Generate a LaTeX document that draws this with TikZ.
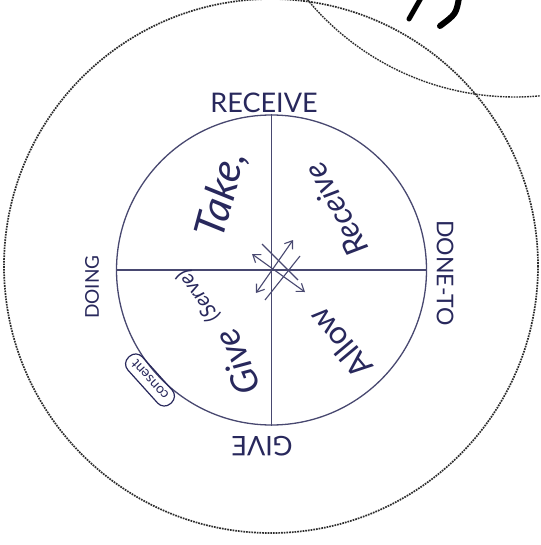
\documentclass[tikz,border=0pt]{standalone}
\usepackage{fontspec}
\setmainfont{Lato}
\usetikzlibrary{arrows.meta}
\definecolor{ink}{RGB}{40,40,92}
\definecolor{rulec}{RGB}{72,72,112}
\definecolor{dotc}{RGB}{45,45,45}
\begin{document}
\begin{tikzpicture}[x=1pt,y=-1pt,
  axislab/.style={text=ink, inner sep=0pt},
  quadlab/.style={text=ink, inner sep=0pt},
  dotcircle/.style={draw=dotc, line width=1.7pt, densely dotted},
  rulel/.style={draw=rulec, line width=1.3pt},
  arr/.style={draw=rulec, line width=1.1pt, {Straight Barb[length=7pt,width=10pt]}-{Straight Barb[length=7pt,width=10pt]}},
  plainl/.style={draw=rulec, line width=1.1pt},
  fs/.style={font=\fontsize{#1}{#1}\selectfont},
  fsi/.style={font=\fontsize{#1}{#1}\selectfont\itshape}]
\useasboundingbox (0,0) rectangle (540,545);
\fill[white] (0,0) rectangle (540,545);
\clip (0,0) rectangle (540,545);
% outer dotted circles
\draw[dotcircle] (271,266) circle[radius=267];
\draw[dotcircle, line width=1.4pt] (515,-173) circle[radius=270];
% black fragment at top
\draw[black, line width=5pt, line cap=round] (421,-2) -- (409,19);
\draw[black, line width=6pt, line cap=round] (459,-2) .. controls (456,14) .. (440,26);
% inner circle and axes
\node[rulel, circle, minimum size=310pt, inner sep=0pt] (inner) at (271.5,270) {};
\draw[rulel] (inner.north) -- (inner.south);
\draw[rulel] (inner.west) -- (inner.east);
% axis labels
\node[axislab, fs=27] (receive) at (264,103) {RECEIVE};
\node[axislab, fs=19, rotate=90] (doing) at (92,287) {DOING};
\node[axislab, fs=23, rotate=-90] (doneto) at (445,273) {DONE-TO};
\node[axislab, fs=27, rotate=180] (give) at (262,446) {GIVE};
% quadrant labels
\node[quadlab, fsi=42, rotate=75] (take) at (222,195) {Take,};
\node[quadlab, fsi=32, rotate=118] (receiveq) at (336,210) {Receive};
\node[quadlab, fs=32, rotate=130] (allow) at (340,343) {Allow};
\node[quadlab, fsi=36, rotate=112] (givec) at (237,362) {Give};
\node[quadlab, fsi=21, rotate=125] (serve) at (198,296) {(Serve)};
\node[draw=ink, line width=1.2pt, rounded corners=9pt, text=ink, rotate=132, fs=14, inner xsep=7pt, inner ysep=5pt] (consent) at (150,380) {consent};
% central arrows
\coordinate (a1) at (256,293);
\coordinate (a2) at (293,240);
\coordinate (b1) at (252,254);
\coordinate (b2) at (305,292);
\coordinate (p1) at (265,300);
\coordinate (p2) at (300,256);
\coordinate (q1) at (262,244);
\coordinate (q2) at (298,280);
\draw[arr] (a1) -- (a2);
\draw[arr] (b1) -- (b2);
\draw[plainl] (p1) -- (p2);
\draw[plainl] (q1) -- (q2);
\end{tikzpicture}
\end{document}
